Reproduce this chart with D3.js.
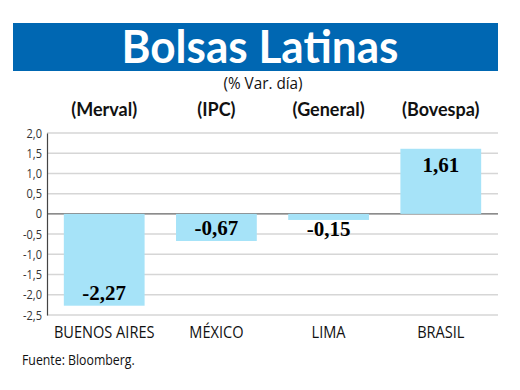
<!DOCTYPE html>
<html>
<head>
<meta charset="utf-8">
<script src="https://cdn.jsdelivr.net/npm/d3@7"></script>
<style>
  body { margin: 0; background: #fff; }
  svg { display: block; }
</style>
</head>
<body>
<div id="graphic"></div>
<script>
const cities = ["BUENOS AIRES", "MÉXICO", "LIMA", "BRASIL"]
const indices = ["(Merval)", "(IPC)", "(General)", "(Bovespa)"]
const values = [-2.27, -0.67, -0.15, 1.61]
const valueLabels = ["-2,27", "-0,67", "-0,15", "1,61"]
const yTicks = [2.0, 1.5, 1.0, 0.5, 0, -0.5, -1.0, -1.5, -2.0, -2.5]

const width = 520
const height = 390
const sans = "'Open Sans', sans-serif"

// squeeze text horizontally, the original uses a condensed face
function condense(sel, f) {
    sel.each(function () {
        let w = this.getComputedTextLength()
        d3.select(this)
            .attr("textLength", w * f)
            .attr("lengthAdjust", "spacingAndGlyphs")
    })
}

let svg = d3.select("#graphic").append("svg")
    .attr("width", width)
    .attr("height", height)

// title banner
svg.append("rect")
    .attr("x", 13)
    .attr("y", 23)
    .attr("width", 485)
    .attr("height", 48)
    .attr("fill", "#0067b2")

svg.append("text")
    .attr("x", 260)
    .attr("y", 63)
    .attr("text-anchor", "middle")
    .attr("fill", "#fff")
    .style("font-family", "Lato, 'Open Sans', sans-serif")
    .style("font-weight", "700")
    .style("font-size", "46px")
    .attr("textLength", 277)
    .attr("lengthAdjust", "spacingAndGlyphs")
    .text("Bolsas Latinas")

svg.append("text")
    .attr("x", 263)
    .attr("y", 89)
    .attr("text-anchor", "middle")
    .attr("fill", "#111")
    .style("font-family", sans)
    .style("font-size", "17px")
    .text("(% Var. día)")
    .call(condense, 0.9)

let x = d3.scaleBand()
    .domain(cities)
    .range([47, 498])
    .paddingInner(0.28)
    .paddingOuter(0.15)

let y = d3.scaleLinear()
    .domain([-2.5, 2.0])
    .range([315, 133])

// grid lines
svg.selectAll(null)
    .data(yTicks)
    .enter().append("line")
    .attr("x1", 47)
    .attr("x2", 498)
    .attr("y1", d => y(d))
    .attr("y2", d => y(d))
    .attr("stroke", d => d === 0 ? "#666" : "#d6d6d6")
    .attr("stroke-width", d => d === 0 ? 1.2 : 1.5)

// bars
svg.selectAll(null)
    .data(values)
    .enter().append("rect")
    .attr("x", (d, i) => x(cities[i]))
    .attr("width", x.bandwidth())
    .attr("y", d => Math.min(y(d), y(0)))
    .attr("height", d => Math.abs(y(d) - y(0)))
    .attr("fill", "#a6e3f8")

// y axis
let yAxis = svg.append("g")
    .attr("transform", "translate(47,0)")
    .call(d3.axisLeft(y)
        .tickValues(yTicks)
        .tickSize(0)
        .tickPadding(5)
        .tickFormat(d => d === 0 ? "0" : d3.format(".1f")(d).replace(".", ",").replace("−", "-")))

yAxis.select(".domain")
    .attr("stroke", "#444")
    .attr("stroke-width", 1.2)

yAxis.selectAll("text")
    .attr("fill", "#333")
    .style("font-family", sans)
    .style("font-size", "12.5px")
    .call(condense, 0.88)

// index names above
svg.selectAll(null)
    .data(indices)
    .enter().append("text")
    .attr("x", (d, i) => x(cities[i]) + x.bandwidth() / 2)
    .attr("y", 116)
    .attr("text-anchor", "middle")
    .attr("fill", "#111")
    .style("font-family", "Lato, 'Open Sans', sans-serif")
    .style("font-weight", "700")
    .style("font-size", "18px")
    .text(d => d)

// value labels
svg.selectAll(null)
    .data(values)
    .enter().append("text")
    .attr("x", (d, i) => x(cities[i]) + x.bandwidth() / 2)
    .attr("y", function (d) {
        if (d >= 0) return y(d) + 23
        if (Math.abs(y(d) - y(0)) < 25) return y(d) + 16
        return y(d) - 6
    })
    .attr("text-anchor", "middle")
    .attr("fill", "#000")
    .style("font-family", "'Liberation Serif', serif")
    .style("font-weight", "700")
    .style("font-size", "21px")
    .text((d, i) => valueLabels[i])

// city labels
svg.selectAll(null)
    .data(cities)
    .enter().append("text")
    .attr("x", d => x(d) + x.bandwidth() / 2)
    .attr("y", 338)
    .attr("text-anchor", "middle")
    .attr("fill", "#111")
    .style("font-family", sans)
    .style("font-size", "16px")
    .text(d => d)
    .call(condense, 0.91)

svg.append("text")
    .attr("x", 22)
    .attr("y", 365)
    .attr("fill", "#111")
    .style("font-family", sans)
    .style("font-size", "15px")
    .text("Fuente: Bloomberg.")
    .call(condense, 0.82)
</script>
</body>
</html>
